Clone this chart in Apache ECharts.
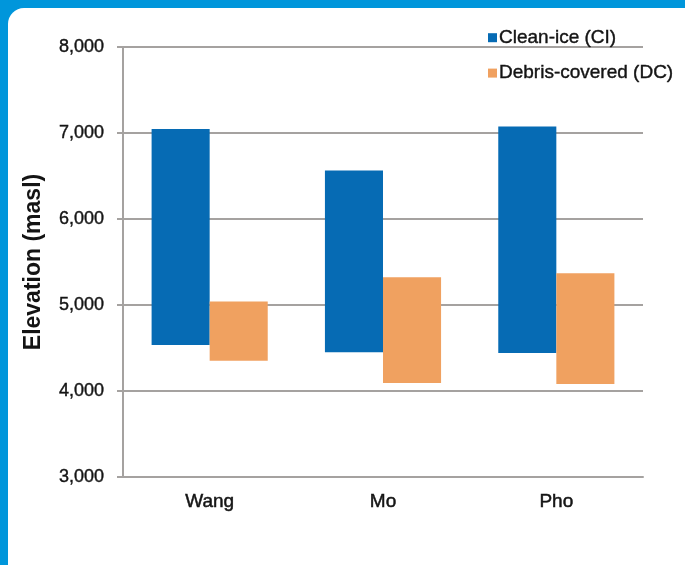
<!DOCTYPE html>
<html>
<head>
<meta charset="utf-8">
<script src="https://cdn.jsdelivr.net/npm/echarts@6/dist/echarts.min.js"></script>
<style>
html,body{margin:0;padding:0;background:#0096db;overflow:hidden;}
#frame{position:absolute;left:8px;top:8px;width:700px;height:580px;background:#fff;border-radius:16px;}
#chart{position:absolute;left:0;top:0;width:685px;height:565px;}
</style>
</head>
<body>
<div id="frame"></div>
<div id="chart"></div>
<script>
// glaciers and elevation ranges (masl)
var categories = ['Wang', 'Mo', 'Pho'];
var ciLow = [4535, 4450, 4442];
var ciHigh = [7047, 6565, 7077];
var dcLow = [4352, 4093, 4081];
var dcHigh = [5040, 5322, 5368];

var gridColor = '#a5a2a0';
var txt = '#141414';

function diff(hi, lo) {
    var out = [];
    for (var i = 0; i < hi.length; i++) {
        out.push(hi[i] - lo[i]);
    }
    return out;
}

var myChart = echarts.init(document.getElementById('chart'));

var option = {
    backgroundColor: 'transparent',
    textStyle: {fontFamily: 'Liberation Sans, Arial, sans-serif'},
    legend: {
        data: ['Clean-ice (CI)', 'Debris-covered (DC)'],
        orient: 'vertical',
        left: 483,
        top: 23,
        icon: 'rect',
        itemWidth: 9,
        itemHeight: 9,
        itemGap: 16,
        textStyle: {fontSize: 19, color: txt, padding: [0, 0, 0, -3],
            textBorderColor: txt, textBorderWidth: 0.4}
    },
    grid: {left: 123, top: 47, right: 42, bottom: 88},
    xAxis: {
        type: 'category',
        data: categories,
        axisTick: {show: false},
        axisLine: {lineStyle: {color: gridColor, width: 2}},
        axisLabel: {fontSize: 19, color: txt, margin: 15,
            textBorderColor: txt, textBorderWidth: 0.5}
    },
    yAxis: {
        type: 'value',
        min: 3000,
        max: 8000,
        interval: 1000,
        name: 'Elevation (masl)',
        nameLocation: 'middle',
        nameGap: 78,
        nameTextStyle: {fontSize: 23, fontWeight: 'bold', color: txt},
        axisLine: {show: true, lineStyle: {color: gridColor, width: 2}},
        axisTick: {show: true, length: 6, lineStyle: {color: gridColor, width: 2}},
        axisLabel: {
            fontSize: 18,
            color: txt,
            margin: 19,
            textBorderColor: txt,
            textBorderWidth: 0.4,
            formatter: function (v) { return v.toLocaleString('en-US'); }
        },
        splitLine: {lineStyle: {color: gridColor, width: 2}}
    },
    series: [
        {
            name: 'ci-base',
            type: 'bar',
            stack: 'ci',
            data: ciLow,
            itemStyle: {color: 'rgba(0,0,0,0)'},
            barGap: '0%',
            barCategoryGap: '33%',
            silent: true
        },
        {
            name: 'Clean-ice (CI)',
            type: 'bar',
            stack: 'ci',
            data: diff(ciHigh, ciLow),
            itemStyle: {color: '#066bb4'}
        },
        {
            name: 'dc-base',
            type: 'bar',
            stack: 'dc',
            data: dcLow,
            itemStyle: {color: 'rgba(0,0,0,0)'},
            silent: true
        },
        {
            name: 'Debris-covered (DC)',
            type: 'bar',
            stack: 'dc',
            data: diff(dcHigh, dcLow),
            itemStyle: {color: '#f0a160'}
        }
    ]
};

myChart.setOption(option);
</script>
</body>
</html>
